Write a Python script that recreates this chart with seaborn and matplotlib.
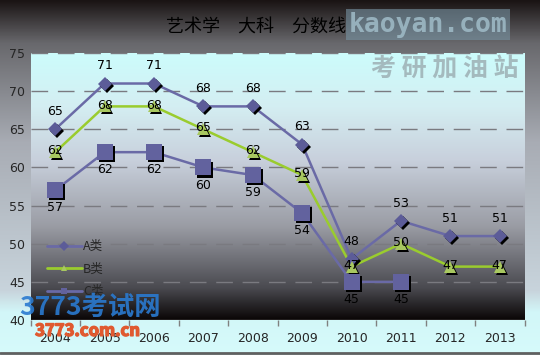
import numpy as np
import pandas as pd
import seaborn as sns
import matplotlib.pyplot as plt
import matplotlib.patheffects as pe
from matplotlib.colors import LinearSegmentedColormap
from matplotlib.transforms import ScaledTranslation

# данные: проходные баллы
years = ['2004', '2005', '2006', '2007', '2008', '2009', '2010', '2011', '2012', '2013']
score_a = [65, 71, 71, 68, 68, 63, 48, 53, 51, 51]
score_b = [62, 68, 68, 65, 62, 59, 47, 50, 47, 47]
score_c = [57, 62, 62, 60, 59, 54, 45, 45, np.nan, np.nan]
series_names = ['A类', 'B类', 'C类']

sns.set_theme(style='white')
plt.rcParams['font.family'] = ['Noto Sans CJK SC', 'DejaVu Sans']

df = pd.DataFrame({'year': years, 'A类': score_a, 'B类': score_b, 'C类': score_c})
df['x'] = np.arange(len(years))
long = df.melt(id_vars=['year', 'x'], value_vars=series_names,
               var_name='type', value_name='score')

fig = plt.figure(figsize=(5.4, 3.55), dpi=100)
# фон рисунка: темный сверху, голубой снизу
bg = fig.add_axes([0, 0, 1, 1], zorder=-10)
bg_cmap = LinearSegmentedColormap.from_list(
    'bg', [(0, '#d6fbfb'), (0.12, '#d2f6f8'), (0.18, '#c8d4dc'),
           (0.6, '#a8acb4'), (0.88, '#68686c'), (1, '#1a1414')])
bg.imshow(np.linspace(0, 1, 256).reshape(-1, 1), aspect='auto', cmap=bg_cmap,
          origin='lower', extent=[0, 1, 0, 1])
bg.axis('off')

ax = fig.add_axes([30.5 / 540, 35 / 355, 494 / 540, 267 / 355])
ax.set_facecolor('none')
pa_cmap = LinearSegmentedColormap.from_list(
    'pa', [(0, '#0a0606'), (0.12, '#4a4a50'), (0.35, '#9a9ca4'),
           (0.6, '#c8d0dc'), (0.8, '#d4eef2'), (1, '#ccfcfc')])
ax.imshow(np.linspace(0, 1, 256).reshape(-1, 1), aspect='auto', cmap=pa_cmap,
          origin='lower', extent=[-0.5, 9.5, 40, 75], zorder=0)

line_colors = {'A类': '#6a6aa6', 'B类': '#9acc2e', 'C类': '#6a6aa6'}
marker_colors = {'A类': '#5c5c98', 'B类': '#a8c860', 'C类': '#62629e'}
markers = {'A类': 'D', 'B类': '^', 'C类': 's'}
msizes = {'A类': 7, 'B类': 8, 'C类': 12}

sns.lineplot(data=long, x='x', y='score', hue='type', palette=line_colors,
             linewidth=1.8, ax=ax, legend=False, zorder=3)

shadow = ax.transData + ScaledTranslation(1.5 / 72, -1.5 / 72, fig.dpi_scale_trans)
for name in series_names:
    vals = df[name]
    ax.plot(df['x'], vals, linestyle='none', marker=markers[name], ms=msizes[name],
            color='black', mew=0, transform=shadow, zorder=4)
    ax.plot(df['x'], vals, linestyle='none', marker=markers[name], ms=msizes[name],
            color=marker_colors[name], mew=0, zorder=5)

# подписи значений
lab = dict(fontsize=9, color='black', zorder=6, family=['DejaVu Sans'])
for i, v in enumerate(score_a):
    ax.annotate(f'{v}', (i, v), xytext=(0, 8), textcoords='offset points',
                ha='center', va='bottom', **lab)
for i, v in enumerate(score_b):
    ax.annotate(f'{v}', (i, v), xytext=(0, 1), textcoords='offset points',
                ha='center', va='center', **lab)
for i, v in enumerate(score_c):
    if np.isnan(v):
        continue
    ax.annotate(f'{v:.0f}', (i, v), xytext=(0, -8), textcoords='offset points',
                ha='center', va='top', **lab)

ax.set_xlim(-0.5, 9.5)
ax.set_ylim(40, 75)
ax.set_yticks(range(40, 76, 5))
ax.set_xticks(range(len(years)))
ax.set_xticklabels(years)
ax.set_xticks(np.arange(-0.5, 10, 1), minor=True)
ax.tick_params(axis='x', which='major', length=0, labelsize=9, pad=9)
ax.tick_params(axis='x', which='minor', length=4, color='#808080', direction='out',
               bottom=True)
ax.tick_params(axis='y', length=0, labelsize=9, pad=4)
for t in ax.get_yticklabels() + ax.get_xticklabels():
    t.set_fontfamily(['DejaVu Sans'])
ax.set_xlabel('')
ax.set_ylabel('')
for y in range(45, 76, 5):
    ax.axhline(y, color='#7a7a80', lw=1, dashes=(12, 7), zorder=1)
for s in ax.spines.values():
    s.set_visible(False)
ax.axhline(40, color='#808080', lw=1, zorder=2)

# легенда
handles = []
for name in series_names:
    h, = ax.plot([], [], color=line_colors[name], lw=2, marker=markers[name],
                 ms=5, markerfacecolor=marker_colors[name], mew=0)
    handles.append(h)
ax.legend(handles, series_names, loc='lower left', bbox_to_anchor=(0.01, 0.04),
          frameon=False, fontsize=9, handlelength=2.8, labelspacing=0.75,
          handletextpad=0.1)

fig.text(0.475, 0.925, '艺术学　大科　分数线', ha='center', va='center',
         fontsize=13, color='black')

# водяные знаки
fig.text(0.793, 0.93, 'kaoyan.com', ha='center', va='center', fontsize=19,
         color='#a0bcc8', alpha=0.85, family='DejaVu Sans Mono', fontweight='bold',
         bbox=dict(boxstyle='square,pad=0.1', fc='#7894a4', ec='none', alpha=0.6))
fig.text(0.824, 0.803, '考 研 加 油 站', ha='center', va='center', fontsize=18,
         color='#a0b4b8', fontweight='bold', alpha=0.9)
fig.text(0.035, 0.135, '3773考试网', ha='left', va='center', fontsize=19,
         color='#2a7ad0', fontstyle='italic', fontweight='bold', alpha=0.9)
fig.text(0.065, 0.068, '3773.com.cn', ha='left', va='center', fontsize=12,
         color='#e05a30', fontweight='bold',
         path_effects=[pe.withStroke(linewidth=1, foreground='#e05a30')])

fig.add_artist(plt.Line2D([0, 1], [0.006, 0.006], color='#606060', lw=2))

fig.savefig('out.png', dpi=100)
